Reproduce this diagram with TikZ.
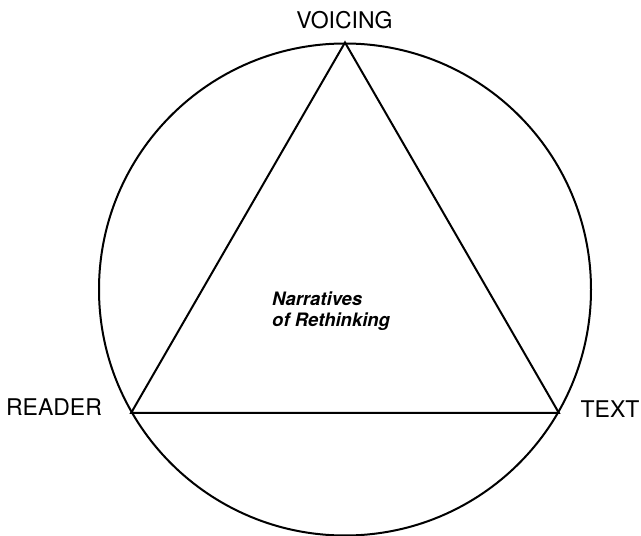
\documentclass[tikz,border=0pt]{standalone}
\usepackage{fontspec}
\setmainfont{TeX Gyre Heros}
\begin{document}
\begin{tikzpicture}[x=1pt,y=1pt,
  outline/.style={draw=black, line width=2pt},
  vertexlabel/.style={inner sep=0pt, font=\fontsize{23}{27}\selectfont},
  centrelabel/.style={inner sep=0pt, align=left, font=\fontsize{18.5}{21}\selectfont\bfseries\itshape}]
\useasboundingbox (0,0) rectangle (641,536);
\node[outline, circle, minimum size=492pt, inner sep=0pt] (ring) at (345,246.5) {};
\coordinate (apex) at (ring.90);
\coordinate (left) at (ring.210);
\coordinate (right) at (ring.330);
\draw[line width=2pt, line join=miter] (apex) -- (left) -- (right) -- cycle;
\node[vertexlabel] (voicing) at (344.5,515.5) {VOICING};
\node[vertexlabel] (reader) at (54,128.5) {READER};
\node[vertexlabel] (text) at (610,126.5) {TEXT};
\node[centrelabel, anchor=west] (narr) at (272,225.2) {Narratives\\of Rethinking};
\end{tikzpicture}
\end{document}
